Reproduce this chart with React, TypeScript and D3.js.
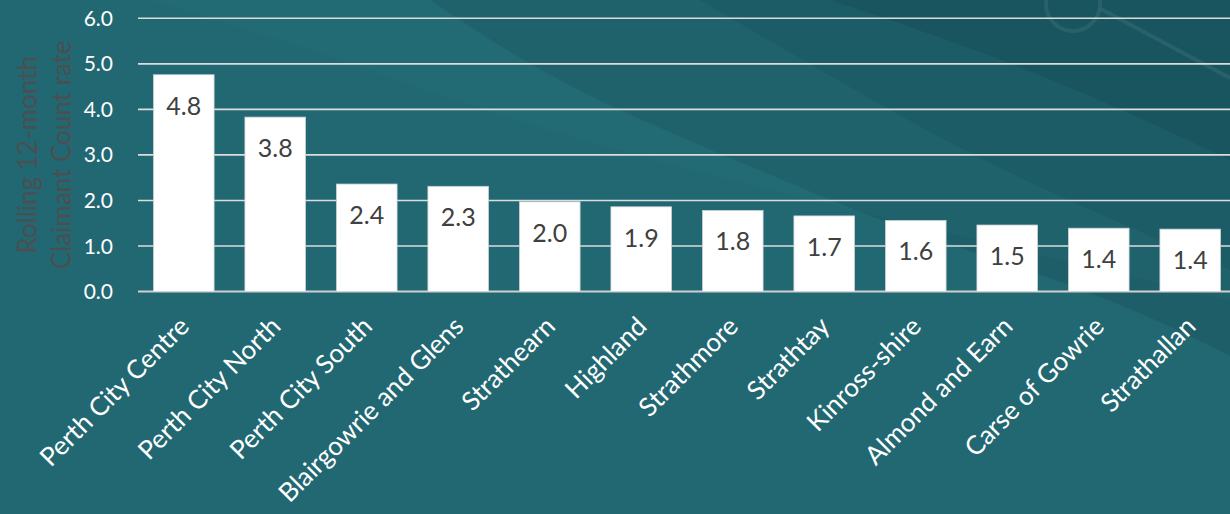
import React from "react";
import * as d3 from "d3";

const categories = [
  "Perth City Centre",
  "Perth City North",
  "Perth City South",
  "Blairgowrie and Glens",
  "Strathearn",
  "Highland",
  "Strathmore",
  "Strathtay",
  "Kinross-shire",
  "Almond and Earn",
  "Carse of Gowrie",
  "Strathallan",
];
const rates = [4.76, 3.83, 2.36, 2.31, 1.97, 1.86, 1.78, 1.66, 1.56, 1.46, 1.39, 1.37];
const yTicks = [0, 1, 2, 3, 4, 5, 6];
const yTitleLines = ["Rolling 12-month", "Claimant Count rate"];

const W = 1230;
const H = 514;
const FONT = "Lato, 'Open Sans', sans-serif";

export default function App() {
  const x = d3
    .scaleBand<string>()
    .domain(categories)
    .range([138, 1236])
    .paddingInner(0.337)
    .paddingOuter(0.1685);
  const y = d3.scaleLinear().domain([0, 6]).range([291.5, 18.3]);
  const fmt = d3.format(".1f");

  const area = (pts: [number, number][]) => {
    const line = d3.line().curve(d3.curveBasis)(pts) as string;
    return line + "L1230,0Z";
  };

  return (
    <svg
      width={W}
      height={H}
      style={{ position: "absolute", left: 0, top: 0, display: "block" }}
      fontFamily={FONT}
    >
      <rect x={0} y={0} width={W} height={H} fill="#226873" />
      {/* decorative swooshes */}
      <path
        d={area([
          [430, 0],
          [520, 60],
          [620, 112],
          [760, 170],
          [900, 230],
          [1100, 292],
          [1230, 356],
        ])}
        fill="#174852"
        opacity={0.3}
      />
      <path
        d={area([
          [700, 0],
          [820, 70],
          [960, 150],
          [1100, 215],
          [1230, 270],
        ])}
        fill="#174852"
        opacity={0.28}
      />
      <path
        d={area([
          [830, 0],
          [950, 40],
          [1080, 90],
          [1230, 160],
        ])}
        fill="#123f48"
        opacity={0.3}
      />
      <path
        d={area([
          [150, 0],
          [300, 45],
          [480, 110],
          [650, 160],
          [850, 210],
          [1230, 300],
        ])}
        fill="#2a7682"
        opacity={0.15}
      />
      <circle cx={1073} cy={4} r={27} fill="none" stroke="#ffffff" strokeOpacity={0.07} strokeWidth={4} />
      <line x1={1101} y1={9} x2={1230} y2={78} stroke="#ffffff" strokeOpacity={0.07} strokeWidth={4} />

      {/* gridlines */}
      {yTicks.map((t) => (
        <line
          key={t}
          x1={138}
          x2={W}
          y1={y(t)}
          y2={y(t)}
          stroke={t === 0 ? "#cfcfcf" : "#dcdcdc"}
          strokeWidth={t === 0 ? 2 : 1.6}
        />
      ))}
      {yTicks.map((t) => (
        <text
          key={"l" + t}
          x={113}
          y={y(t)}
          dy="0.36em"
          textAnchor="end"
          fill="#ffffff"
          fontSize={21}
        >
          {fmt(t)}
        </text>
      ))}

      {/* y title */}
      <g transform={`translate(0, ${(y(0) + y(6)) / 2}) rotate(-90)`}>
        <text x={0} y={37} textAnchor="middle" fill="#4a4f50" fontSize={26}>
          {yTitleLines[0]}
        </text>
        <text x={0} y={71} textAnchor="middle" fill="#4a4f50" fontSize={26}>
          {yTitleLines[1]}
        </text>
      </g>

      {/* bars */}
      {categories.map((c, i) => (
        <g key={c}>
          <rect
            x={x(c)}
            y={y(rates[i])}
            width={x.bandwidth()}
            height={y(0) - y(rates[i])}
            fill="#ffffff"
            stroke="#c8d0d2"
            strokeWidth={0.8}
          />
          <text
            x={(x(c) as number) + x.bandwidth() / 2}
            y={y(rates[i]) + 40}
            textAnchor="middle"
            fill="#404040"
            fontSize={25}
          >
            {fmt(rates[i])}
          </text>
          <text
            transform={`translate(${(x(c) as number) + x.bandwidth() / 2 + 7}, 328) rotate(-45)`}
            textAnchor="end"
            fill="#ffffff"
            fontSize={26}
          >
            {c}
          </text>
        </g>
      ))}
    </svg>
  );
}
